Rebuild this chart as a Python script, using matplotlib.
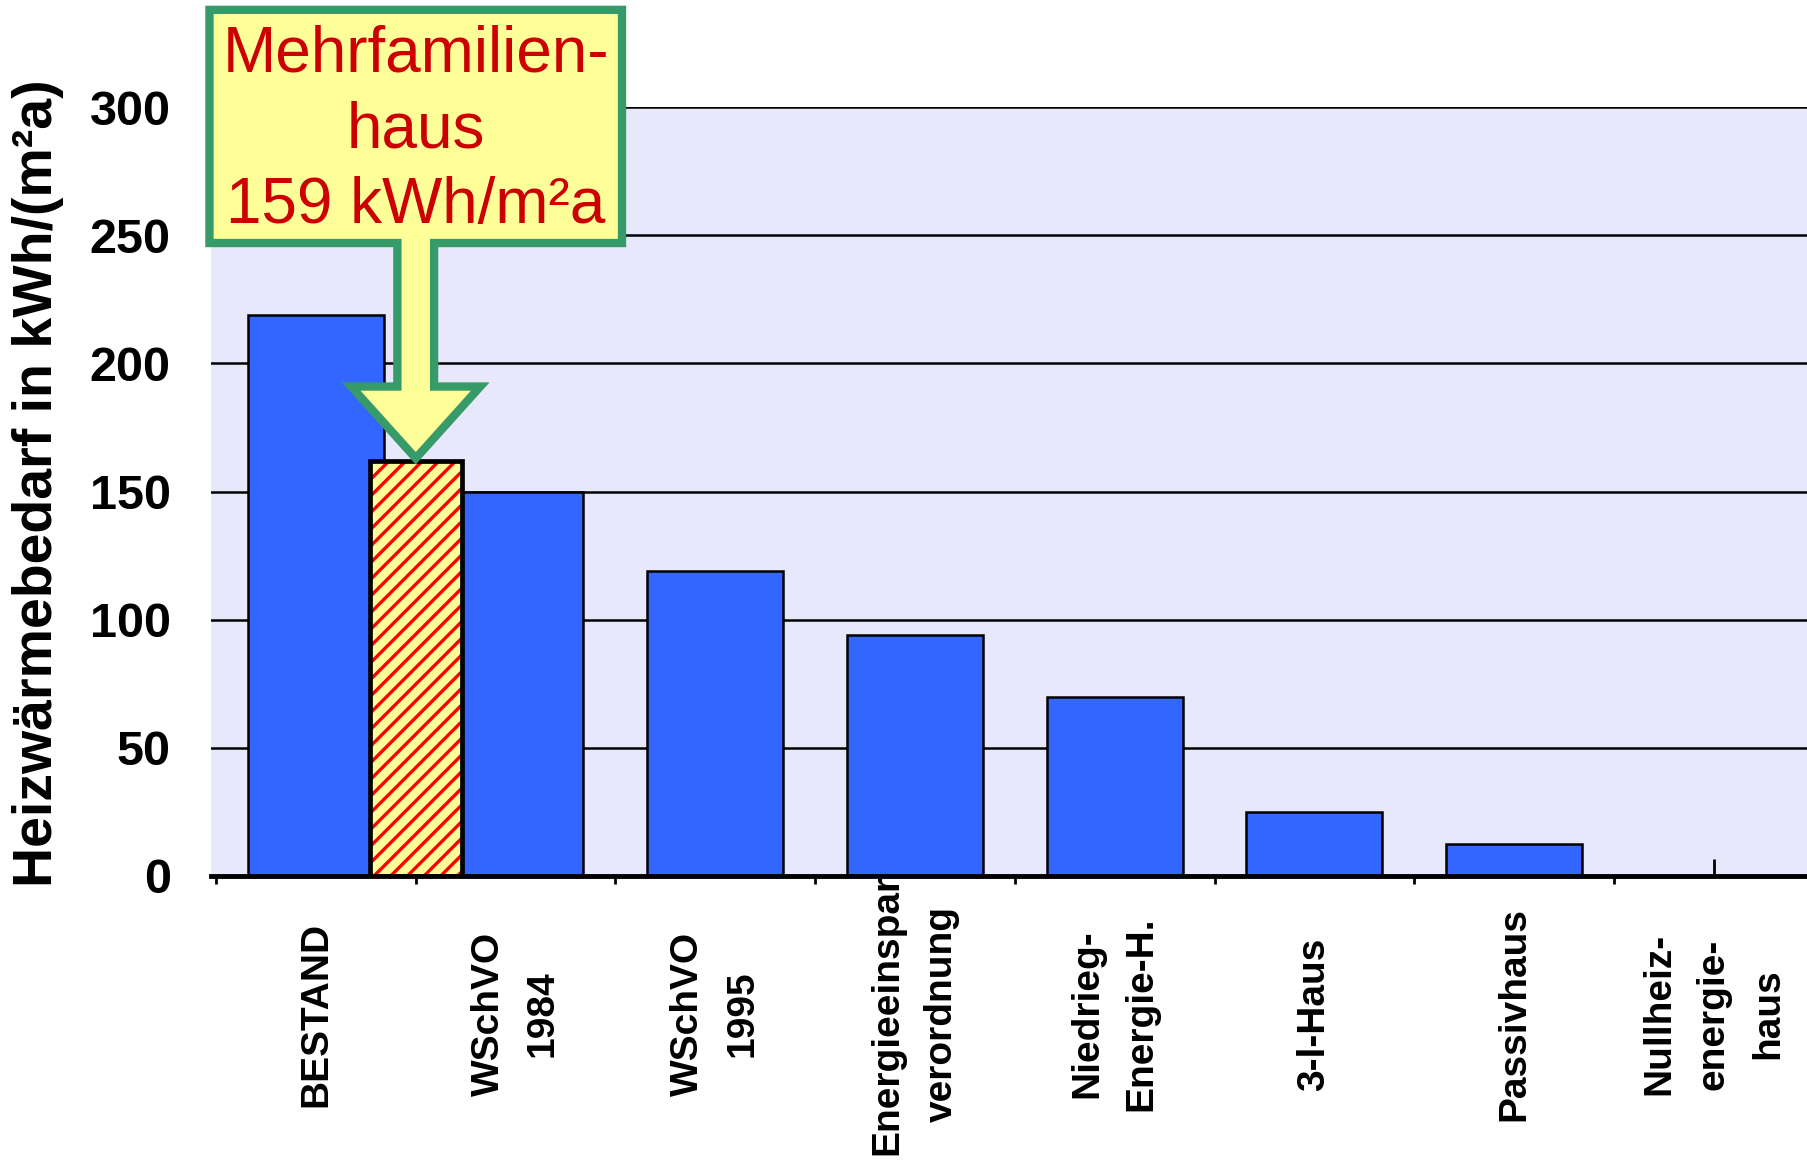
import matplotlib
matplotlib.use("Agg")
import matplotlib.pyplot as plt
from matplotlib.patches import Polygon
from matplotlib.ticker import FixedLocator

# ---- data ----
categories = ["BESTAND", "WSchVO\n1984", "WSchVO\n1995", "Energieeinspar\nverordnung",
              "Niedrieg-\nEnergie-H.", "3-l-Haus", "Passivhaus", "Nullheiz-\nenergie-\nhaus"]
values = [219, 150, 119, 94, 70, 25, 12.5, 0]
highlight_pos = 0.5
highlight_value = 162
highlight_text = "Mehrfamilien-\nhaus\n159 kWh/m²a"
yticks = [0, 50, 100, 150, 200, 250, 300]
ylabel = "Heizwärmebedarf in kWh/(m²a)"

plt.rcParams['font.family'] = ['Liberation Sans', 'DejaVu Sans']
plt.rcParams['hatch.linewidth'] = 2.4

fig = plt.figure(figsize=(18.07, 11.63), dpi=100)
ax = fig.add_axes([0.1168, 0.2468, 0.8832, 0.661])
ax.set_facecolor('#E8E8FC')

x = list(range(len(categories)))
ax.bar(x, values, width=0.68, color='#3366FF', edgecolor='black', linewidth=1.8, zorder=2)

# highlighted hatched bar
ax.bar([highlight_pos], [highlight_value], width=0.46, color='#FFFF99', edgecolor='#FF0000',
       hatch='//', linewidth=0, zorder=3)
ax.bar([highlight_pos], [highlight_value], width=0.46, fill=False, edgecolor='black',
       linewidth=3.4, zorder=4)

ax.set_xlim(-0.525, 7.467)
ax.set_ylim(0, 300)
ax.set_yticks(yticks)
ax.set_yticklabels([str(v) for v in yticks], fontsize=35, fontweight='bold')
ax.tick_params(axis='y', length=0, pad=29)
ax.yaxis.grid(True, color='black', linewidth=1.8)
ax.set_axisbelow(True)

ax.set_xticks(x)
ax.set_xticklabels([])
ax.xaxis.set_minor_locator(FixedLocator([i - 0.5 for i in range(len(categories) + 1)]))
ax.tick_params(axis='x', which='major', direction='in', length=12, width=2, color='black')
ax.tick_params(axis='x', which='minor', direction='out', length=6, width=2, color='black')

for s in ['left', 'right', 'top']:
    ax.spines[s].set_visible(False)
ax.spines['bottom'].set_linewidth(3.5)
ax.spines['bottom'].set_zorder(5)

for xi, lab in zip(x, categories):
    ax.text(xi, -0.1795, lab, transform=ax.get_xaxis_transform(), rotation=90,
            ha='center', va='center', multialignment='center', fontsize=28,
            fontweight='bold', linespacing=1.65, zorder=1)

fig.text(38 / 1807, 1 - 483 / 1163, ylabel, rotation=90, ha='center', va='center',
         fontsize=40, fontweight='bold')

# callout (box with arrow pointing at the highlighted bar)
cx = highlight_pos
tip = highlight_value + 1
bw, by0, by1 = 1.033, 247, 338
sw, hw, hy = 0.092, 0.323, 191
verts = [(cx - bw, by1), (cx + bw, by1), (cx + bw, by0), (cx + sw, by0), (cx + sw, hy),
         (cx + hw, hy), (cx, tip), (cx - hw, hy), (cx - sw, hy), (cx - sw, by0), (cx - bw, by0)]
callout = Polygon(verts, closed=True, facecolor='#FFFF99', edgecolor='#379A69',
                  linewidth=6, joinstyle='miter', clip_on=False, zorder=10)
ax.add_patch(callout)
ax.text(cx, (by0 + by1) / 2 - 1.5, highlight_text, ha='center', va='center', color='#CC0000',
        fontsize=46, linespacing=1.33, zorder=11, clip_on=False)

fig.savefig('out.png', dpi=100)
